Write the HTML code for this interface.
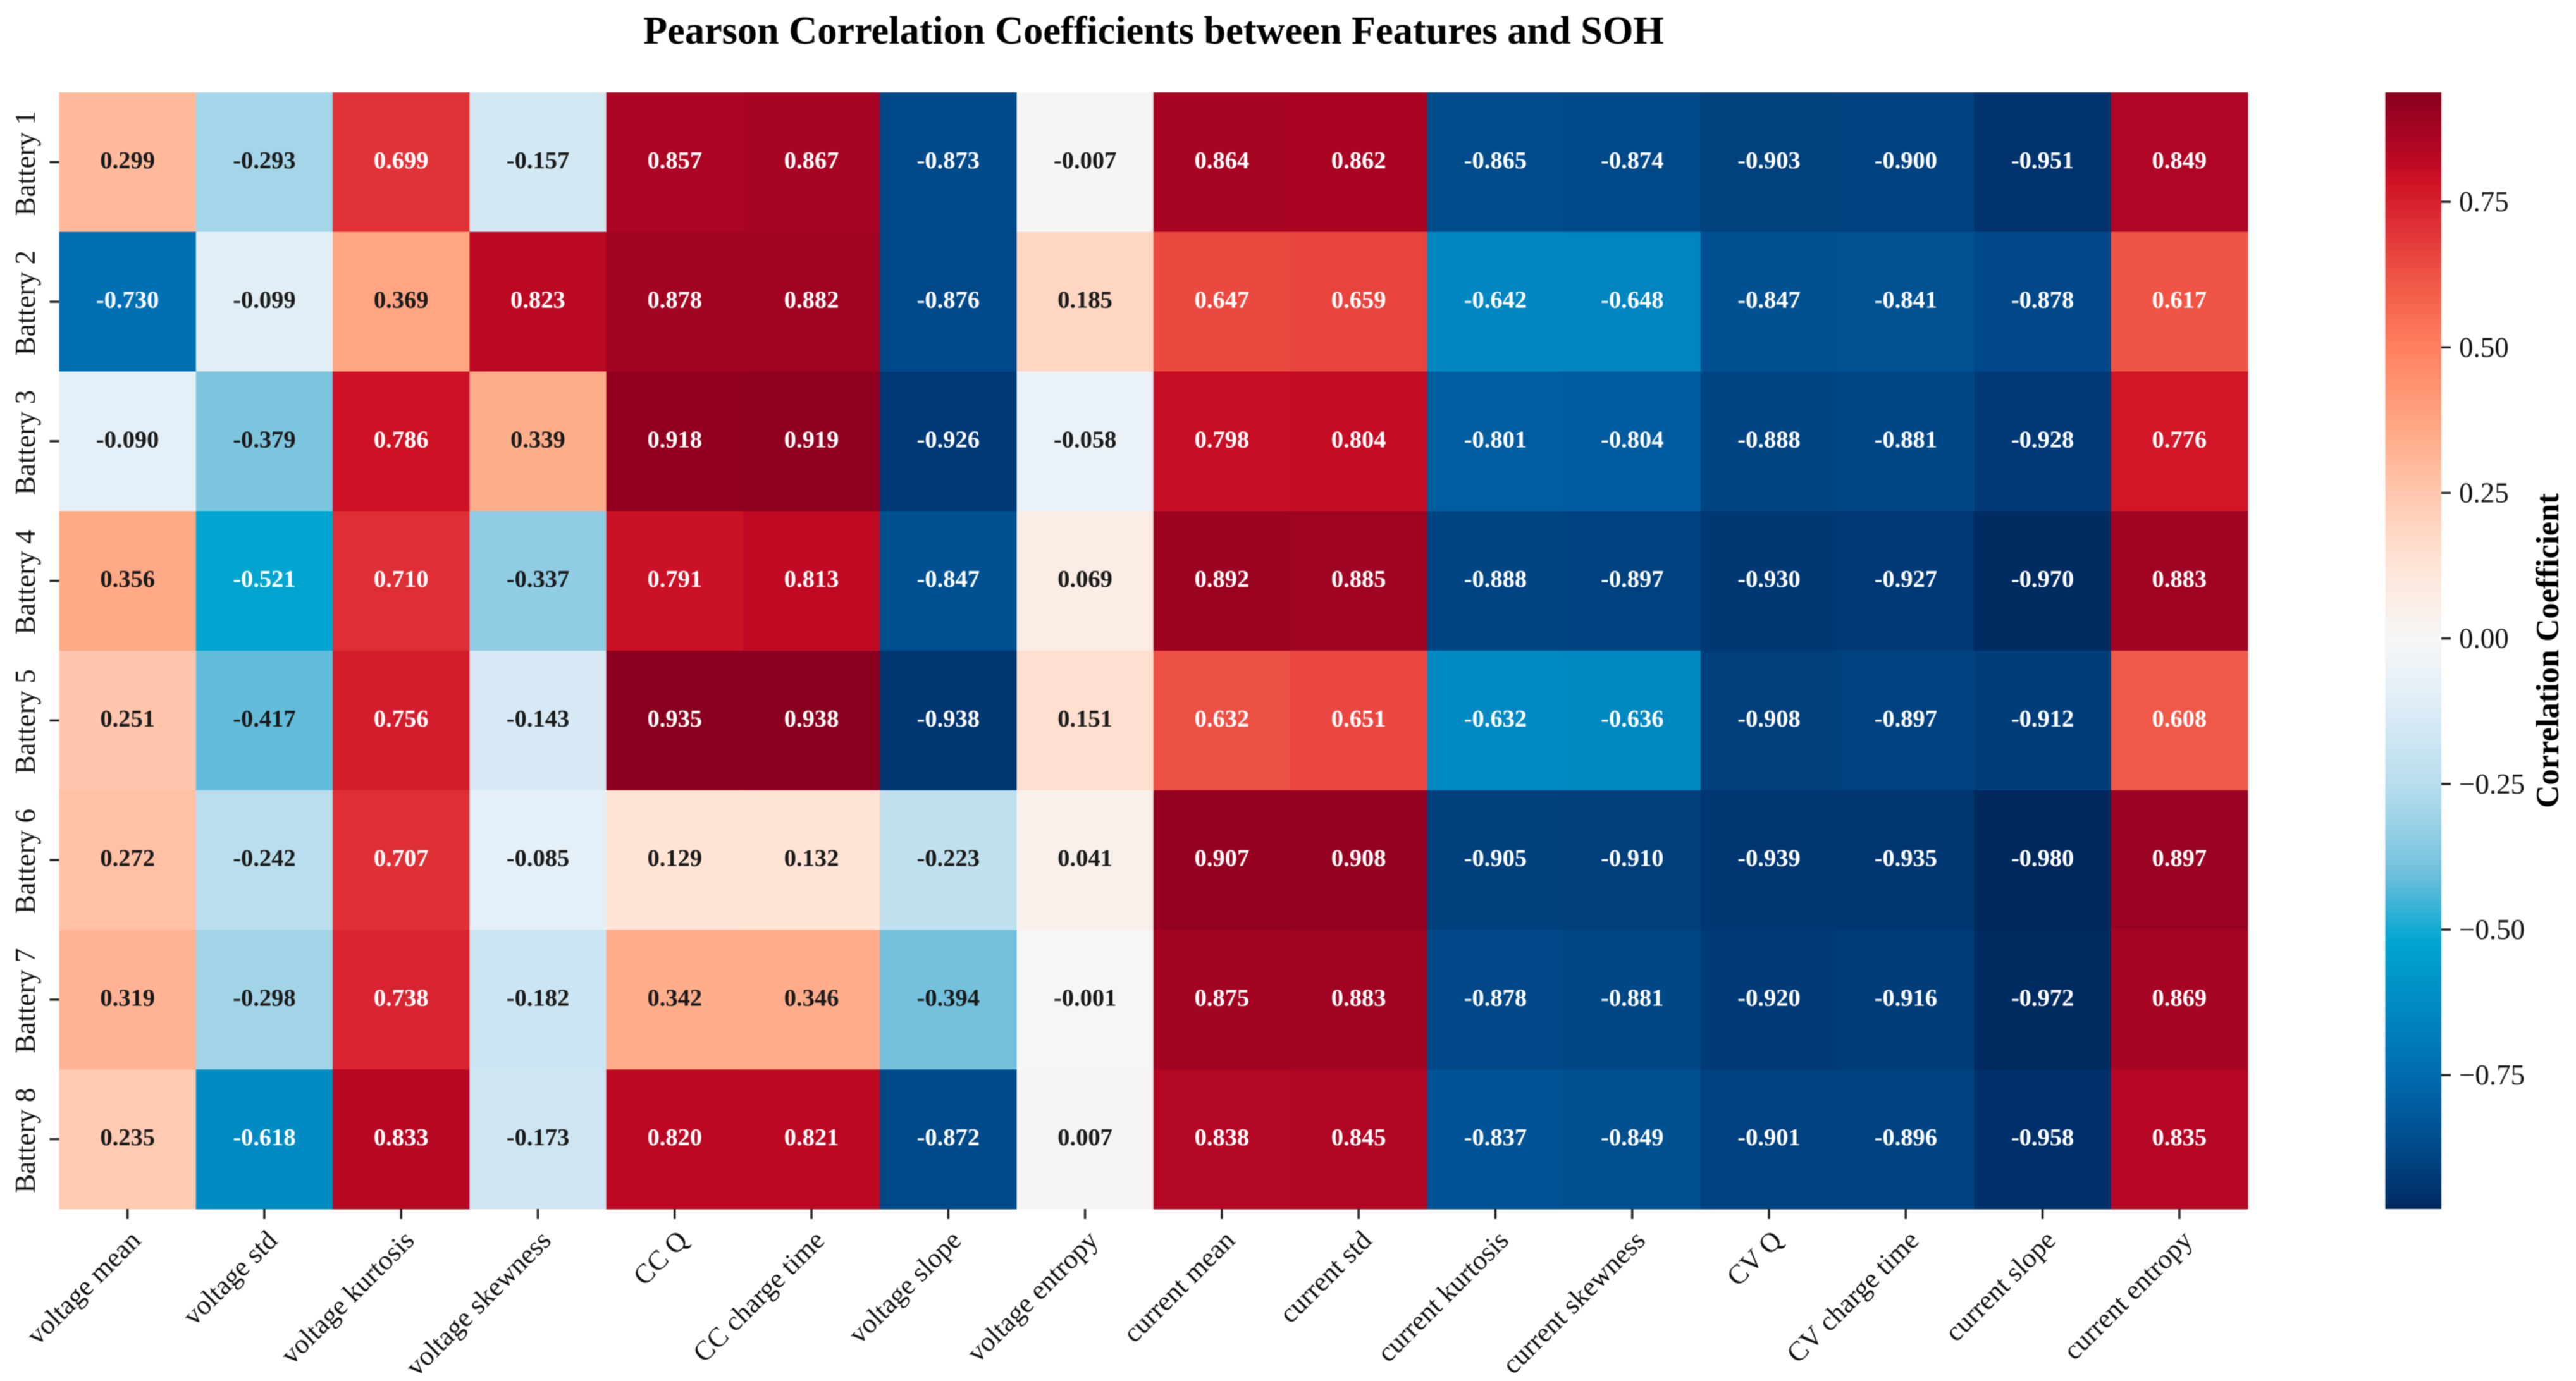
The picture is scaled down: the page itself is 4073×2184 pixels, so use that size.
<!DOCTYPE html>
<html lang="en">
<head>
<meta charset="utf-8">
<title>Pearson Correlation Coefficients between Features and SOH</title>
<style>
html,body{margin:0;padding:0;background:#fff;width:4073px;height:2184px;overflow:hidden}
svg{display:block;filter:blur(0.7px)}
text{font-family:"Liberation Serif",serif}
</style>
</head>
<body>
<svg id="chart" xmlns="http://www.w3.org/2000/svg" width="4073" height="2184" viewBox="0 0 4073 2184">
<text x="1824" y="69" text-anchor="middle" font-size="62.3" font-weight="bold" fill="#000">Pearson Correlation Coefficients between Features and SOH</text>
<defs><linearGradient id="cbar-gradient" x1="0" y1="0" x2="0" y2="1"></linearGradient></defs>
<g id="cells"></g>
<g id="axes"></g>
<g id="colorbar"></g>
<text transform="translate(4045,1029) rotate(-90)" text-anchor="middle" font-size="50.3" font-weight="bold" fill="#000">Correlation Coefficient</text>
</svg>
<script>
const features = ["voltage mean","voltage std","voltage kurtosis","voltage skewness","CC Q","CC charge time","voltage slope","voltage entropy","current mean","current std","current kurtosis","current skewness","CV Q","CV charge time","current slope","current entropy"];
const batteries = ["Battery 1","Battery 2","Battery 3","Battery 4","Battery 5","Battery 6","Battery 7","Battery 8"];
const battery1 = [0.299,-0.293,0.699,-0.157,0.857,0.867,-0.873,-0.007,0.864,0.862,-0.865,-0.874,-0.903,-0.900,-0.951,0.849];
const battery2 = [-0.730,-0.099,0.369,0.823,0.878,0.882,-0.876,0.185,0.647,0.659,-0.642,-0.648,-0.847,-0.841,-0.878,0.617];
const battery3 = [-0.090,-0.379,0.786,0.339,0.918,0.919,-0.926,-0.058,0.798,0.804,-0.801,-0.804,-0.888,-0.881,-0.928,0.776];
const battery4 = [0.356,-0.521,0.710,-0.337,0.791,0.813,-0.847,0.069,0.892,0.885,-0.888,-0.897,-0.930,-0.927,-0.970,0.883];
const battery5 = [0.251,-0.417,0.756,-0.143,0.935,0.938,-0.938,0.151,0.632,0.651,-0.632,-0.636,-0.908,-0.897,-0.912,0.608];
const battery6 = [0.272,-0.242,0.707,-0.085,0.129,0.132,-0.223,0.041,0.907,0.908,-0.905,-0.910,-0.939,-0.935,-0.980,0.897];
const battery7 = [0.319,-0.298,0.738,-0.182,0.342,0.346,-0.394,-0.001,0.875,0.883,-0.878,-0.881,-0.920,-0.916,-0.972,0.869];
const battery8 = [0.235,-0.618,0.833,-0.173,0.820,0.821,-0.872,0.007,0.838,0.845,-0.837,-0.849,-0.901,-0.896,-0.958,0.835];
const matrix = [battery1,battery2,battery3,battery4,battery5,battery6,battery7,battery8];
const colorbarTicks = [0.75,0.50,0.25,0.00,-0.25,-0.50,-0.75];
const colorStopValues = [-0.98,-0.958,-0.872,-0.73,-0.521,-0.417,-0.379,-0.242,-0.09,0,0.129,0.251,0.356,0.5,0.617,0.71,0.786,0.82,0.85,0.938];
const colorStopColors = [[0,40,92],[0,48,106],[0,74,137],[0,112,181],[0,165,208],[100,188,219],[125,197,223],[187,222,238],[228,239,247],[246,246,246],[255,228,214],[255,198,173],[255,169,134],[255,128,96],[239,85,69],[222,47,54],[206,18,37],[188,8,35],[174,6,36],[136,0,30]];

const vMin = -0.98, vMax = 0.938;
const plot = {left:93.5, right:3554, top:146, bottom:1912};
const bar = {left:3771.5, right:3860};
const svgNS = "http://www.w3.org/2000/svg";

function xScale(i){ return plot.left + i * (plot.right - plot.left) / features.length; }
function yScale(i){ return plot.top + i * (plot.bottom - plot.top) / batteries.length; }
function barY(v){ return plot.top + (vMax - v) / (vMax - vMin) * (plot.bottom - plot.top); }
function colorFor(v){
  let k = 0;
  while (k < colorStopValues.length - 2 && v > colorStopValues[k + 1]) k++;
  const t = Math.max(0, Math.min(1, (v - colorStopValues[k]) / (colorStopValues[k + 1] - colorStopValues[k])));
  const a = colorStopColors[k], b = colorStopColors[k + 1];
  return "rgb(" + a.map((c, n) => Math.round(c + (b[n] - c) * t)).join(",") + ")";
}
function make(tag, attrs, parent, content){
  const el = document.createElementNS(svgNS, tag);
  for (const key in attrs) el.setAttribute(key, attrs[key]);
  if (content !== undefined) el.textContent = content;
  parent.appendChild(el);
  return el;
}

const cellsGroup = document.getElementById("cells");
const axesGroup = document.getElementById("axes");
const barGroup = document.getElementById("colorbar");

matrix.forEach((row, r) => {
  row.forEach((value, c) => {
    const x0 = xScale(c), x1 = xScale(c + 1), y0 = yScale(r), y1 = yScale(r + 1);
    const cell = make("rect", {x:x0, y:y0, width:x1 - x0 + 0.5, height:y1 - y0 + 0.5, fill:colorFor(value)}, cellsGroup);
    
    
    const label = make("text", {x:(x0 + x1) / 2, y:(y0 + y1) / 2 + 9.5, "text-anchor":"middle", "font-size":38.5, "font-weight":"bold", fill:Math.abs(value) > 0.5 ? "#fff" : "#1a1a1a"}, cellsGroup, value.toFixed(3));
    
    
  });
});

batteries.forEach((name, r) => {
  const cy = (yScale(r) + yScale(r + 1)) / 2;
  const tick = make("line", {x1:plot.left - 15, x2:plot.left, y1:cy, y2:cy, stroke:"#222", "stroke-width":3.5}, axesGroup);
  
  
  const label = make("text", {transform:"translate(55," + (cy + 2) + ") rotate(-90)", "text-anchor":"middle", "font-size":45, fill:"#111"}, axesGroup, name);
  
  
});

features.forEach((name, c) => {
  const cx = (xScale(c) + xScale(c + 1)) / 2;
  const tick = make("line", {x1:cx, x2:cx, y1:plot.bottom, y2:plot.bottom + 16, stroke:"#222", "stroke-width":3.5}, axesGroup);
  
  
  const label = make("text", {transform:"translate(" + (cx + 23) + "," + (plot.bottom + 52) + ") rotate(-45)", "text-anchor":"end", "font-size":43.5, fill:"#111"}, axesGroup, name);
  
  
});

const gradient = document.getElementById("cbar-gradient");
for (let i = colorStopValues.length - 1; i >= 0; i--) {
  const v = colorStopValues[i];
  make("stop", {offset:(vMax - v) / (vMax - vMin), "stop-color":colorFor(v)}, gradient);
}
const barRect = make("rect", {x:bar.left, y:plot.top, width:bar.right - bar.left, height:plot.bottom - plot.top, fill:"url(#cbar-gradient)"}, barGroup);



colorbarTicks.forEach(v => {
  const y = barY(v);
  const tick = make("line", {x1:bar.right, x2:bar.right + 15, y1:y, y2:y, stroke:"#222", "stroke-width":3.5}, barGroup);
  
  
  const text = (v < 0 ? "\u2212" : "") + Math.abs(v).toFixed(2);
  const label = make("text", {x:bar.right + 28, y:y + 15, "font-size":45, fill:"#111"}, barGroup, text);
  
  
});
</script>
</body>
</html>
